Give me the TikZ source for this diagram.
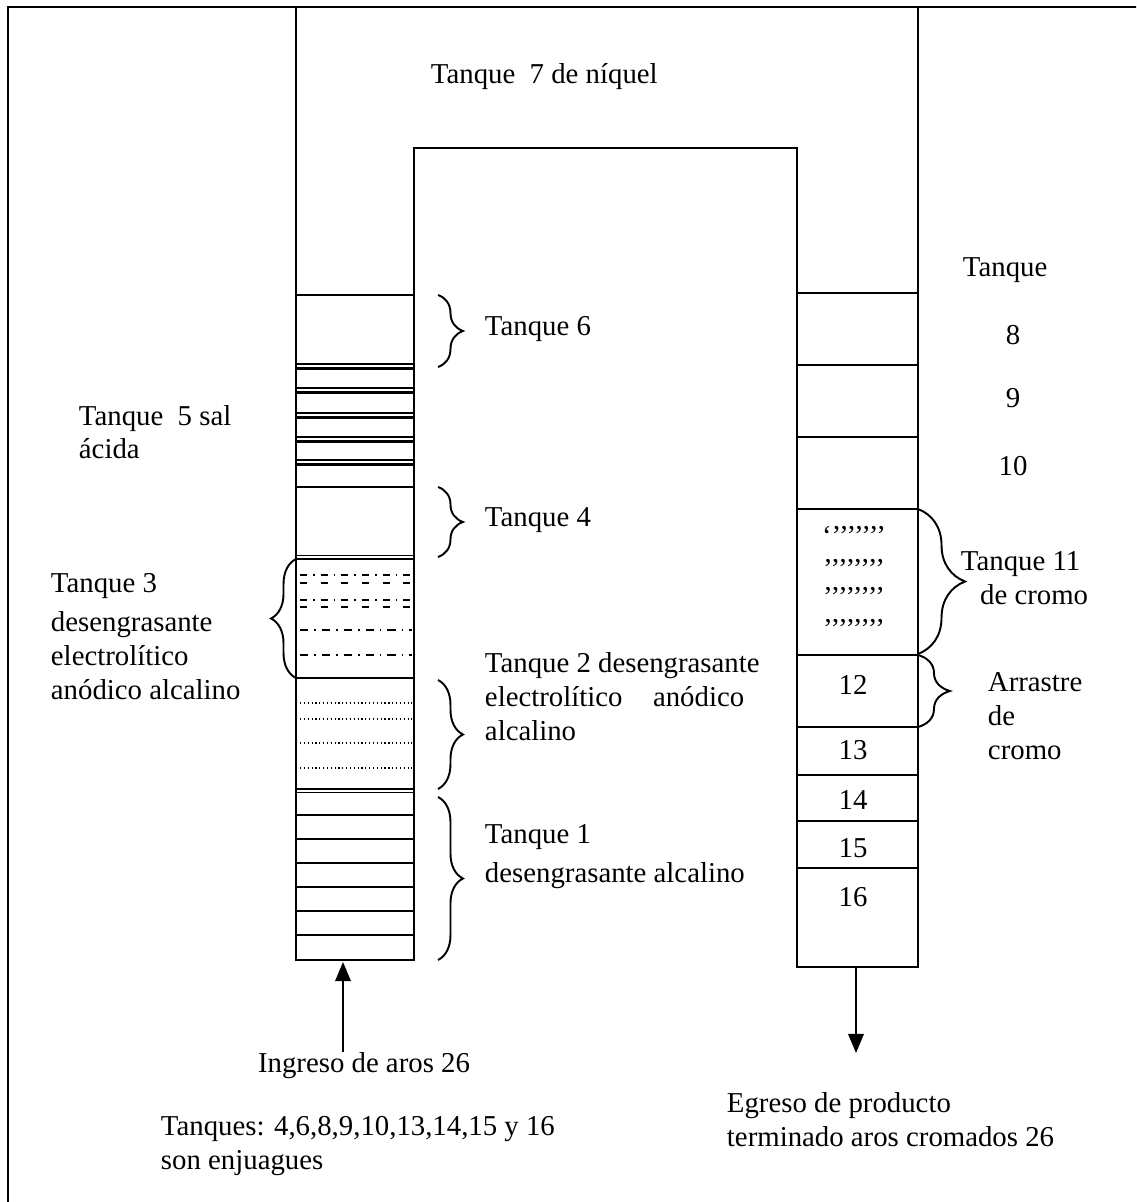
\documentclass[tikz,border=0pt]{standalone}
\usepackage{fontspec}
\setmainfont{Liberation Serif}
\usetikzlibrary{arrows.meta,decorations.pathreplacing}

\begin{document}
\begin{tikzpicture}[x=0.4167pt,y=-0.4167pt,line width=0.8pt,
    font=\fontsize{12}{14}\selectfont,
    lbl/.style={inner sep=0pt,anchor=base west,align=left},
    num/.style={inner sep=0pt,anchor=base},
    brc/.style={decorate,decoration={brace,amplitude=#1}},
    brc/.default=10.4pt,
    flow/.style={-{Triangle[length=8pt,width=6.5pt]}}]
  \clip (0,0) rectangle (1136,1202);
  \draw (8,7) rectangle (1160,1220);
  % U shaped line of tanks
  \draw (296,7)--(296,960)--(414,960)--(414,148)--(797,148)--(797,967)--(918,967)--(918,7);
  % left column
  \draw (296,295)--(414,295);
  \foreach \y in {364,388,413,437,460}{
    \draw[line width=0.9pt] (296,\y)--(414,\y) (296,\y+4.5)--(414,\y+4.5);}
  \draw (296,487)--(414,487);
  \draw (296,555.5)--(414,555.5) (296,559)--(414,559);
  \draw[dash pattern=on 3pt off 2.5pt on 0.6pt off 2.5pt] (300,575)--(412,575) (300,600)--(412,600);
  \draw[dash pattern=on 3pt off 5.6pt] (300,583)--(412,583) (300,607)--(412,607);
  \draw[dash pattern=on 3.5pt off 2.5pt on 0.6pt off 2.5pt] (300,630)--(412,630) (300,655)--(412,655);
  \draw (296,678)--(414,678);
  \foreach \y in {703,719,743,768}{
    \draw[line width=0.5pt,dash pattern=on 0.5pt off 1.1pt] (300,\y)--(412,\y);}
  \draw (296,789)--(414,789) (296,792.5)--(414,792.5);
  \foreach \y in {815,839,863,887,911,935}{
    \draw (296,\y)--(414,\y);}
  % right column
  \foreach \y in {293,365,437,509,655,727,775,821,868}{
    \draw (797,\y)--(918,\y);}
  \foreach \y/\t in {546/{‘’’’’’’’},578/{’’’’’’’’},606/{’’’’’’’’},638/{’’’’’’’’}}{
    \node[num] at (854,\y) {\t};}
  \node[num] (n12) at (853,694) {12};
  \node[num] (n13) at (853,759) {13};
  \node[num] (n14) at (853,809) {14};
  \node[num] (n15) at (853,857) {15};
  \node[num] (n16) at (853,906) {16};
  % braces
  \draw[brc] (438,295)--(438,367);
  \draw[brc] (438,487)--(438,557);
  \draw[brc] (296,678)--(296,559);
  \draw[brc] (438,680)--(438,789);
  \draw[brc] (438,797)--(438,960);
  \draw[brc=19.6pt] (918,509)--(918,654);
  \draw[brc=13.3pt] (918,655)--(918,727);
  % labels (base = last line)
  \node[lbl] (t7) at (430,84) {Tanque~~7 de níquel};
  \node[lbl] (t6) at (484,336) {Tanque 6};
  \node[lbl] (t5) at (78,459) {Tanque~~5 sal\\ácida};
  \node[lbl] (t4) at (484,527) {Tanque 4};
  \node[lbl] (t3) at (50,699) {Tanque 3\\[2.5pt]desengrasante\\electrolítico\\anódico alcalino};
  \node[lbl] (t2) at (484,740) {Tanque 2 desengrasante\\\makebox[108pt][s]{electrolítico anódico}\\alcalino};
  \node[lbl] (t1) at (484,882) {Tanque 1\\[2pt]desengrasante alcalino};
  \node[lbl] (t11) at (960,604) {Tanque 11\\\hspace*{8pt}de cromo};
  \node[lbl] (arr) at (987,759) {Arrastre\\de\\cromo};
  \node[lbl] (tq) at (962,277) {Tanque};
  \node[num] (n8) at (1013,345) {8};
  \node[num] (n9) at (1013,408) {9};
  \node[num] (n10) at (1013,476) {10};
  \node[num] (ing) at (364,1072) {Ingreso de aros 26};
  \node[lbl] (nota) at (160,1169) {Tanques: 4,6,8,9,10,13,14,15 y 16\\son enjuagues};
  \node[lbl] (egr) at (726,1146) {Egreso de producto\\terminado aros cromados 26};
  % flow arrows
  \coordinate (inTail) at (343,1052);
  \coordinate (inHead) at (343,962);
  \coordinate (outTail) at (856,967);
  \coordinate (outHead) at (856,1053);
  \draw[flow] (inTail)--(inHead);
  \draw[flow] (outTail)--(outHead);
\end{tikzpicture}
\end{document}
